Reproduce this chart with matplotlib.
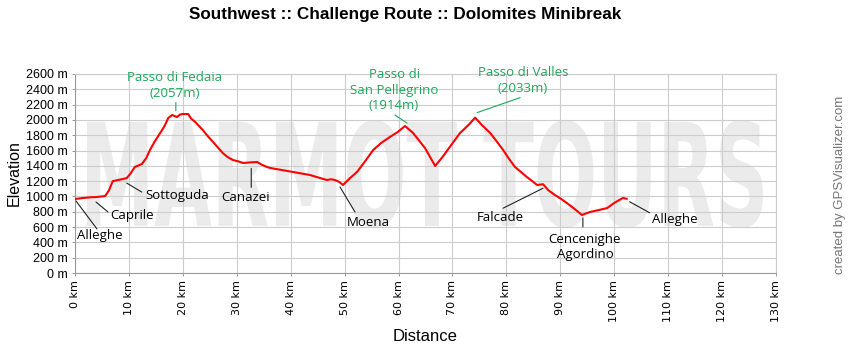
import numpy as np
import matplotlib
matplotlib.use('Agg')
import matplotlib.pyplot as plt
from matplotlib import patheffects
from matplotlib.transforms import Affine2D, offset_copy
from matplotlib.textpath import TextPath
from matplotlib.font_manager import FontProperties

TITLE = "Southwest :: Challenge Route :: Dolomites Minibreak"

# elevation profile (km, m)
DIST_KM = [0.0, 1.5, 3.0, 4.1, 5.6, 6.3, 7.0, 8.0, 8.9, 9.6, 10.3, 11.1, 12.4, 13.2,
           13.9, 14.8, 15.8, 16.6, 17.3, 18.0, 18.9, 19.5, 20.0, 21.0, 21.5, 22.3,
           23.0, 23.7, 24.6, 25.6, 26.5, 27.4, 28.3, 29.3, 30.2, 31.2, 32.5, 33.8,
           34.5, 35.6, 36.2, 38.0, 40.4, 42.0, 43.6, 45.0, 46.7, 47.5, 48.2, 49.0,
           49.7, 51.0, 52.3, 53.8, 55.3, 56.8, 58.4, 59.8, 61.2, 62.7, 64.9, 66.8,
           68.2, 69.5, 71.4, 72.0, 73.2, 74.2, 75.5, 77.0, 78.2, 79.4, 80.5, 81.6,
           82.7, 83.8, 84.8, 85.7, 86.8, 87.8, 89.0, 90.1, 91.2, 92.6, 94.0, 95.5,
           97.0, 98.7, 100.1, 101.6, 102.3]
ELEV_M = [967, 980, 990, 993, 1006, 1080, 1200, 1215, 1228, 1240, 1300, 1385, 1424, 1500,
          1607, 1720, 1829, 1920, 2025, 2064, 2038, 2070, 2077, 2077, 2020, 1973,
          1920, 1868, 1790, 1712, 1640, 1568, 1515, 1476, 1460, 1437, 1445, 1450,
          1420, 1385, 1372, 1350, 1320, 1300, 1280, 1250, 1215, 1225, 1215, 1190,
          1150, 1240, 1320, 1460, 1607, 1700, 1777, 1840, 1920, 1829, 1633, 1398,
          1520, 1646, 1829, 1868, 1950, 2030, 1930, 1829, 1720, 1607, 1490, 1385,
          1320, 1254, 1200, 1150, 1160, 1080, 1019, 970, 915, 840, 758, 797,
          820, 849, 920, 980, 970]

X_TICKS = list(range(0, 131, 10))
Y_TICKS = list(range(0, 2601, 200))

# towns: name, km, leader start, leader end, text offset (px from profile point), ha
TOWNS = [
    ("Alleghe", 0.0, (1, -2), (22, -30), (2, -37), 'left'),
    ("Caprile", 3.9, (0, -5), (12, -15), (14, -18), 'left'),
    ("Sottoguda", 9.6, (0, -5), (15, -14), (19, -17), 'left'),
    ("Canazei", 32.5, (1, -6), (1, -25), (-5, -35), 'center'),
    ("Moena", 49.7, (-3, -2), (12, -27), (4, -38), 'left'),
    ("Falcade", 86.8, (0, -4), (-40, -24), (-43, -33), 'center'),
    ("Cencenighe\nAgordino", 94.0, (1, -3), (1, -12), (3, -32), 'center'),
    ("Alleghe", 102.3, (3, -3), (23, -14), (25, -21), 'left'),
]
# passes: same layout, text in green above the line
PASSES = [
    ("Passo di Fedaia\n(2057m)", 18.7, (0, 6), (0, 14), (-1, 31)),
    ("Passo di\nSan Pellegrino\n(1914m)", 61.2, (2, 3), (-10, 11), (-11, 36)),
    ("Passo di Valles\n(2033m)", 74.2, (2, 5), (45, 20), (48, 37)),
]

GREEN = '#1fa65a'
LABEL_FONT = ['Open Sans', 'DejaVu Sans']


class Stretch(patheffects.AbstractPathEffect):
    """stretch glyphs vertically around the baseline (tall condensed watermark)"""
    def __init__(self, sy):
        super().__init__()
        self.sy = sy

    def draw_path(self, renderer, gc, tpath, affine, rgbFace=None):
        renderer.draw_path(gc, tpath, Affine2D().scale(1.0, self.sy) + affine, rgbFace)


def leader(ax, km, a, b, color):
    e = np.interp(km, DIST_KM, ELEV_M)
    start = offset_copy(ax.transData, fig=ax.figure, x=a[0], y=a[1], units='dots')
    ax.annotate('', xy=(km, e), xycoords=start,
                xytext=(b[0] - a[0], b[1] - a[1]), textcoords='offset pixels',
                arrowprops=dict(arrowstyle='-', color=color, lw=0.8,
                                shrinkA=0, shrinkB=0))


def label(ax, name, km, t, ha, color):
    e = np.interp(km, DIST_KM, ELEV_M)
    ax.annotate(name, xy=(km, e), xytext=t, textcoords='offset pixels',
                ha=ha, va='center', fontsize=9.5, family=LABEL_FONT,
                color=color, linespacing=1.25, zorder=4)


fig = plt.figure(figsize=(8.5, 3.5), dpi=100)
ax = fig.add_axes([75 / 850, 77 / 350, 701 / 850, 199 / 350])

# watermark: width sets the font size, height comes from the stretch
wm = "MARMOT TOURS"
wm_fp = FontProperties(family='DejaVu Sans', weight='bold')
ext = TextPath((0, 0), wm, size=1, prop=wm_fp).get_extents()
px_em = 676 / ext.width
sy = 108 / (ext.height * px_em)
ax.text((87 - ext.x0 * px_em) / 850, (350 - 228 - ext.y0 * px_em * sy) / 350, wm,
        transform=fig.transFigure, fontproperties=wm_fp, fontsize=px_em * 0.72,
        color='#ebebeb', ha='left', va='baseline', zorder=0.1,
        path_effects=[Stretch(sy)])

ax.plot(DIST_KM, ELEV_M, color='#ff0000', lw=1.5, zorder=3)

ax.set_xlim(0, 130)
ax.set_ylim(0, 2600)
ax.set_xticks(X_TICKS)
ax.set_xticklabels([f"{v} km" for v in X_TICKS], rotation=90, fontsize=8,
                   family='DejaVu Sans')
ax.set_yticks(Y_TICKS)
ax.set_yticklabels([f"{v} m" for v in Y_TICKS], fontsize=9, family='Liberation Sans')
ax.tick_params(length=2, width=0.7, color='#999999', pad=3)
ax.grid(True, color='#cccccc', lw=0.8)
ax.set_axisbelow(True)
for s in ax.spines.values():
    s.set_color('#cccccc')
    s.set_linewidth(0.8)
ax.spines['left'].set_color('#999999')
ax.spines['bottom'].set_color('#999999')

ax.set_xlabel("Distance", fontsize=12, family='Liberation Sans', labelpad=5)
ax.set_ylabel("Elevation", fontsize=11.5, family='Liberation Sans', labelpad=3)

for name, km, a, b, t, ha in TOWNS:
    leader(ax, km, a, b, '#222222')
    label(ax, name, km, t, ha, '#000000')

for name, km, a, b, t in PASSES:
    leader(ax, km, a, b, GREEN)
    label(ax, name, km, t, 'center', GREEN)

fig.text(405 / 850, 1 - 15 / 350, TITLE, ha='center', va='center',
         fontsize=12.3, fontweight='bold', family='Liberation Sans')
fig.text(840 / 850, 1 - 185 / 350, "created by GPSVisualizer.com", rotation=90,
         ha='center', va='center', fontsize=9.5, color='#777777', family='Liberation Sans')

fig.savefig('out.png', dpi=100)
